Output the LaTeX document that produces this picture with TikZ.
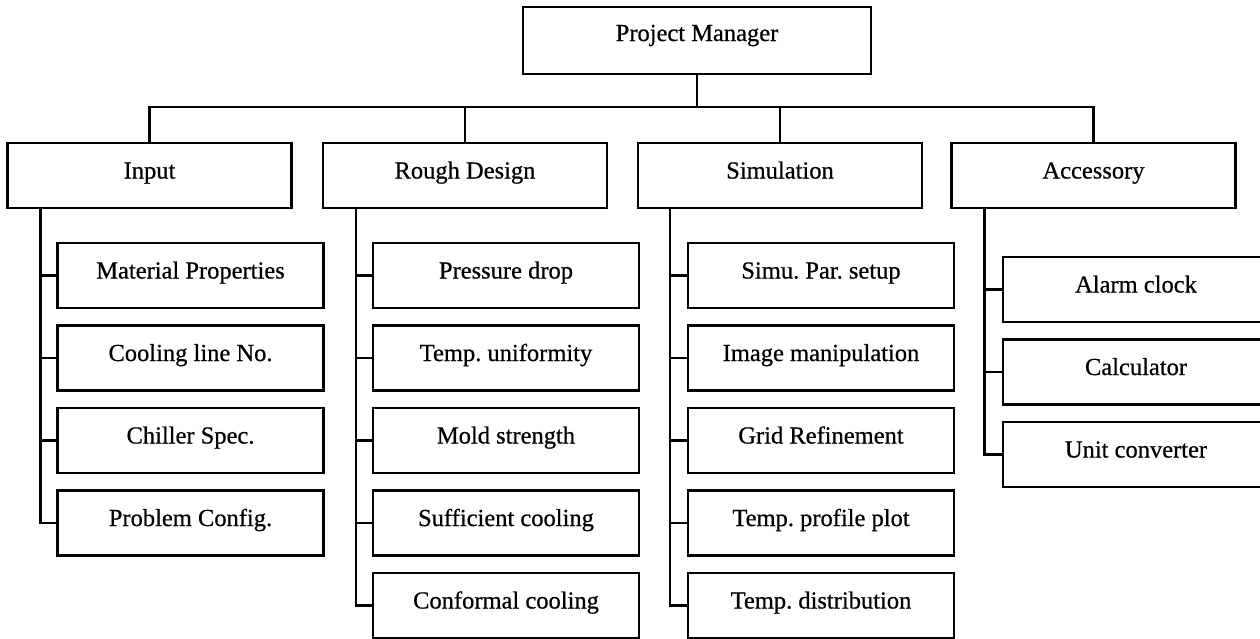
\documentclass[tikz,border=0pt]{standalone}
\usepackage{fontspec}
\setmainfont{Liberation Serif}[FakeBold=0.6]
\frenchspacing
\begin{document}
\begin{tikzpicture}[x=1pt,y=-1pt,
  box/.style={draw, line width=2.3pt, inner sep=0pt, minimum height=65pt,
    text height=17pt, text depth=11pt, font=\fontsize{24.5}{28}\selectfont},
  head/.style={box, minimum width=284pt},
  leaf/.style={box, minimum width=266pt},
  link/.style={line width=2.3pt}]
\useasboundingbox (0,0) rectangle (1260,638);

% root
\node[box, minimum width=348pt, minimum height=67pt, text depth=16pt] (pm) at (697,40.5) {Project Manager};

% second level
\node[head] (input) at (149.5,175.5) {Input};
\node[head] (rough) at (465,175.5) {Rough Design};
\node[head] (sim)   at (780,175.5) {Simulation};
\node[head] (acc)   at (1093.5,175.5) {Accessory};

% bus between root and second level
\coordinate (bar) at (697,107);
\draw[link] (pm.south) -- (bar);
\draw[link] (input.north) |- (bar) -| (acc.north);
\draw[link] (rough.north) -- (rough.north |- bar);
\draw[link] (sim.north) -- (sim.north |- bar);

% leaves
\foreach \t [count=\i] in {Material Properties, Cooling line No., Chiller Spec., Problem Config.}
  \node[leaf] (in\i) at (190.5,{275.5+82.5*(\i-1)}) {\t};
\foreach \t [count=\i] in {Pressure drop, Temp. uniformity, Mold strength, Sufficient cooling, Conformal cooling}
  \node[leaf] (rd\i) at (506,{275.5+82.5*(\i-1)}) {\t};
\foreach \t [count=\i] in {Simu. Par. setup, Image manipulation, Grid Refinement, Temp. profile plot, Temp. distribution}
  \node[leaf] (sm\i) at (821,{275.5+82.5*(\i-1)}) {\t};
\foreach \t [count=\i] in {Alarm clock, Calculator, Unit converter}
  \node[leaf] (ac\i) at (1136,{289.5+82.5*(\i-1)}) {\t};

% spines
\coordinate (inS) at ([xshift=34pt]input.south west);
\coordinate (rdS) at ([xshift=34pt]rough.south west);
\coordinate (smS) at ([xshift=33pt]sim.south west);
\coordinate (acS) at ([xshift=34pt]acc.south west);

\draw[link] (inS) |- (in4.west);
\foreach \i in {1,2,3} \draw[link] (inS |- in\i.west) -- (in\i.west);
\draw[link] (rdS) |- (rd5.west);
\foreach \i in {1,...,4} \draw[link] (rdS |- rd\i.west) -- (rd\i.west);
\draw[link] (smS) |- (sm5.west);
\foreach \i in {1,...,4} \draw[link] (smS |- sm\i.west) -- (sm\i.west);
\draw[link] (acS) |- (ac3.west);
\foreach \i in {1,2} \draw[link] (acS |- ac\i.west) -- (ac\i.west);
\end{tikzpicture}
\end{document}
